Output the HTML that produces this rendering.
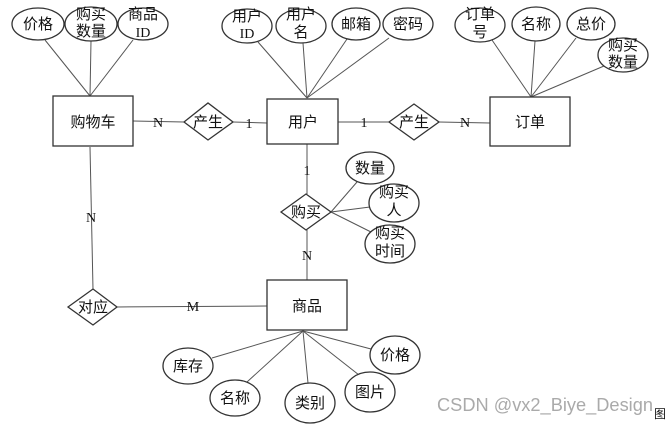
<!DOCTYPE html>
<html><head><meta charset="utf-8"><style>
html,body{margin:0;padding:0;background:#fff;width:667px;height:425px;overflow:hidden}
svg{display:block}
text{font-family:"Liberation Sans","Noto Sans CJK SC",sans-serif;font-size:15px;fill:#111;text-anchor:middle}
.s{font-family:"Liberation Serif","Noto Serif CJK SC",serif;font-size:14px}
.l{stroke:#555;stroke-width:1;fill:none}
.b{stroke:#333;stroke-width:1.3;fill:#fff}
</style></head><body>
<svg width="667" height="425" viewBox="0 0 667 425">
<g class="l">
<line x1="45" y1="40" x2="90" y2="96"/><line x1="91" y1="41" x2="90" y2="96"/><line x1="133" y1="40" x2="90" y2="96"/>
<line x1="258" y1="42" x2="307" y2="98"/><line x1="303" y1="43" x2="307" y2="98"/><line x1="347" y1="39" x2="307" y2="98"/><line x1="389" y1="38" x2="307" y2="98"/>
<line x1="492" y1="40" x2="531" y2="97"/><line x1="535" y1="41" x2="531" y2="97"/><line x1="576" y1="38" x2="531" y2="97"/><line x1="604" y1="66" x2="531" y2="97"/>
<line x1="133" y1="121" x2="184" y2="122"/><line x1="233" y1="122" x2="267" y2="123"/>
<line x1="338" y1="122" x2="389" y2="122"/><line x1="439" y1="122" x2="490" y2="123"/>
<line x1="307" y1="144" x2="307" y2="194"/><line x1="307" y1="230" x2="307" y2="280"/>
<line x1="331" y1="212" x2="357" y2="182"/><line x1="331" y1="212" x2="370" y2="207"/><line x1="331" y1="212" x2="371" y2="232"/>
<line x1="90" y1="147" x2="93" y2="289"/><line x1="117" y1="307" x2="267" y2="306"/>
<line x1="303" y1="331" x2="212" y2="358"/><line x1="303" y1="331" x2="247" y2="382"/><line x1="303" y1="331" x2="308" y2="383"/><line x1="303" y1="331" x2="359" y2="375"/><line x1="303" y1="331" x2="371" y2="349"/>
</g>
<g class="b">
<ellipse cx="38" cy="24" rx="26" ry="16"/><ellipse cx="91" cy="24" rx="26" ry="17"/><ellipse cx="143" cy="24" rx="25" ry="16"/>
<ellipse cx="247" cy="26" rx="25" ry="17"/><ellipse cx="301" cy="26" rx="25" ry="17"/><ellipse cx="356" cy="24" rx="24" ry="16"/><ellipse cx="408" cy="24" rx="25" ry="16"/>
<ellipse cx="480" cy="25" rx="25" ry="17"/><ellipse cx="536" cy="24" rx="24" ry="17"/><ellipse cx="591" cy="24" rx="24" ry="16"/><ellipse cx="623" cy="55" rx="25" ry="17"/>
<ellipse cx="370" cy="168" rx="24" ry="16"/><ellipse cx="394" cy="203" rx="25" ry="19"/><ellipse cx="390" cy="244" rx="25" ry="19"/>
<ellipse cx="188" cy="366" rx="25" ry="18"/><ellipse cx="235" cy="398" rx="25" ry="18"/><ellipse cx="310" cy="403" rx="25" ry="20"/><ellipse cx="370" cy="392" rx="25" ry="20"/><ellipse cx="395" cy="355" rx="25" ry="19"/>
<rect x="53" y="96" width="80" height="50"/><rect x="267" y="99" width="71" height="45"/><rect x="490" y="97" width="80" height="49"/><rect x="267" y="280" width="80" height="50"/>
<polygon points="184,122 208,103 233,122 208,140"/><polygon points="389,122 414,104 439,122 414,140"/>
<polygon points="281,212 306,194 331,212 306,230"/><polygon points="68,307 93,289 117,307 93,325"/>
</g>
<text x="38" y="29">价格</text><text x="91" y="19">购买</text><text x="91" y="36">数量</text><text x="143" y="19">商品</text><text x="143" y="37" class="s">ID</text>
<text x="247" y="21">用户</text><text x="247" y="38" class="s">ID</text><text x="301" y="19">用户</text><text x="301" y="37">名</text><text x="356" y="29">邮箱</text><text x="408" y="29">密码</text>
<text x="480" y="19">订单</text><text x="480" y="37">号</text><text x="536" y="29">名称</text><text x="591" y="29">总价</text><text x="623" y="50">购买</text><text x="623" y="67">数量</text>
<text x="93" y="127">购物车</text><text x="303" y="127">用户</text><text x="530" y="127">订单</text><text x="307" y="311">商品</text>
<text x="208" y="127">产生</text><text x="414" y="127">产生</text><text x="306" y="217">购买</text><text x="93" y="312">对应</text>
<text x="370" y="173">数量</text><text x="394" y="197">购买</text><text x="394" y="215">人</text><text x="390" y="238">购买</text><text x="390" y="256">时间</text>
<text x="188" y="371">库存</text><text x="235" y="403">名称</text><text x="310" y="408">类别</text><text x="370" y="397">图片</text><text x="395" y="360">价格</text>
<text x="158" y="127" class="s">N</text><text x="249" y="128" class="s">1</text><text x="364" y="127" class="s">1</text><text x="465" y="127" class="s">N</text>
<text x="307" y="175" class="s">1</text><text x="307" y="260" class="s">N</text><text x="91" y="222" class="s">N</text><text x="193" y="311" class="s">M</text>
<text x="437" y="411" textLength="216" lengthAdjust="spacingAndGlyphs" style="font-size:18px;fill:#aaa;text-anchor:start">CSDN @vx2_Biye_Design</text>
<text x="660" y="418" style="font-size:12px">图</text>
</svg>
</body></html>
